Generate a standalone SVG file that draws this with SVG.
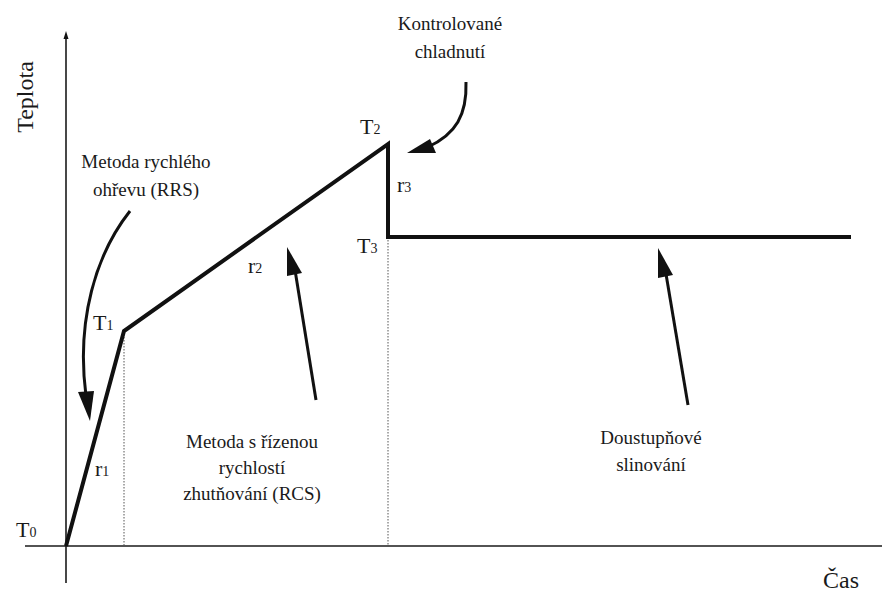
<svg xmlns="http://www.w3.org/2000/svg" width="882" height="592" viewBox="0 0 882 592">
<style>
text{fill:#1a1a1a;font-family:"Liberation Serif",Tinos,"Times New Roman","Noto Serif","DejaVu Serif",serif}
.lbl{font-size:19px;text-anchor:middle}
.sym{font-size:22px}
.sub{font-size:14px}
.axis{stroke:#1a1a1a;stroke-width:1.6;fill:none}
.curve{stroke:#111;stroke-width:4;fill:none;stroke-linejoin:miter}
.dot{stroke:#555;stroke-width:1;stroke-dasharray:1.5 1.5;fill:none}
.arr{stroke:#111;stroke-width:3;fill:none}
.head{fill:#111}
</style>
<rect width="882" height="592" fill="#fff"/>
<g id="axes">
<line class="axis" x1="66" y1="583" x2="66" y2="36"/>
<polygon class="head" points="66,31 63.5,39 68.5,39"/>
<line class="axis" x1="25" y1="546" x2="882" y2="546"/>
<text transform="translate(33,97) rotate(-90)" text-anchor="middle" font-size="24">Teplota</text>
<text x="823" y="588" font-size="24">Čas</text>
</g>
<g id="profile">
<line class="dot" x1="124" y1="334" x2="124" y2="546"/>
<line class="dot" x1="388" y1="240" x2="388" y2="546"/>
<polyline class="curve" points="66,546 124,331 388,144 388,237 851,237"/>
<text class="sym" x="16" y="537">T<tspan class="sub">0</tspan></text>
<text class="sym" x="93" y="330">T<tspan class="sub">1</tspan></text>
<text class="sym" x="360" y="134">T<tspan class="sub">2</tspan></text>
<text class="sym" x="357" y="253">T<tspan class="sub">3</tspan></text>
<text class="sym" x="95" y="476">r<tspan class="sub">1</tspan></text>
<text class="sym" x="248" y="273">r<tspan class="sub">2</tspan></text>
<text class="sym" x="397" y="192">r<tspan class="sub">3</tspan></text>
</g>
<g id="rrs">
<text class="lbl" x="146" y="168">Metoda rychlého</text>
<text class="lbl" x="146" y="196">ohřevu (RRS)</text>
</g>
<g id="cooling">
<text class="lbl" x="450" y="30">Kontrolované</text>
<text class="lbl" x="450" y="58">chladnutí</text>
</g>
<g id="rcs">
<text class="lbl" x="252" y="448">Metoda s řízenou</text>
<text class="lbl" x="252" y="474">rychlostí</text>
<text class="lbl" x="252" y="500">zhutňování (RCS)</text>
</g>
<g id="sintering">
<text class="lbl" x="651" y="444">Doustupňové</text>
<text class="lbl" x="651" y="471">slinování</text>
</g>
<g id="connectors">
<path class="arr" d="M130,211 C96,254 76,320 86,396"/>
<polygon class="head" points="90,421 78,392 94,391"/>
<path class="arr" d="M466,82 C467,115 456,134 428,147"/>
<polygon class="head" points="407,153 430,139 436,153"/>
<line class="arr" x1="316" y1="400" x2="295" y2="270"/>
<polygon class="head" points="287,247 287,276 302,273"/>
<line class="arr" x1="688" y1="405" x2="666" y2="274"/>
<polygon class="head" points="658,248 658,278 673,275"/>
</g>
</svg>
